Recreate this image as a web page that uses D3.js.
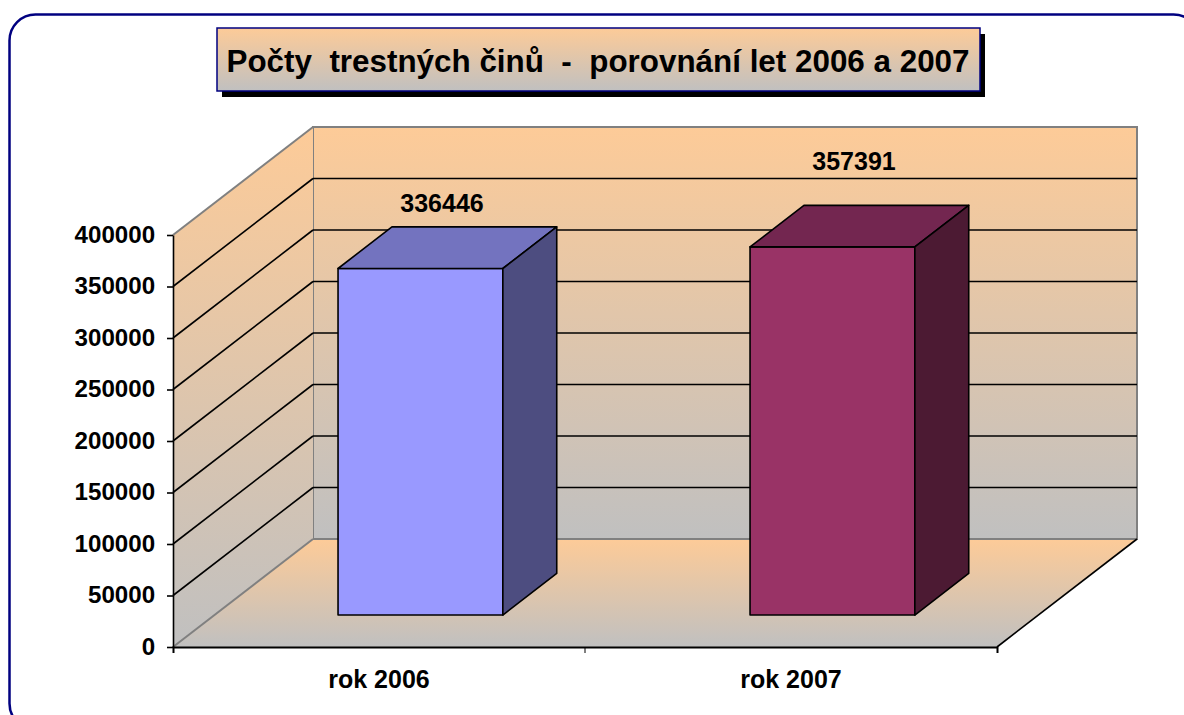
<!DOCTYPE html>
<html>
<head>
<meta charset="utf-8">
<script src="https://cdn.jsdelivr.net/npm/d3@7"></script>
<style>
  body { margin: 0; background: #fff; }
  text { font-family: "Liberation Sans", Arial, sans-serif; font-weight: bold; }
</style>
</head>
<body>
<svg width="1184" height="715"></svg>
<script>
// chart data
var title = 'Počty  trestných činů  -  porovnání let 2006 a 2007';
var categories = ['rok 2006', 'rok 2007'];
var values = [336446, 357391];
var yTicks = [0, 50000, 100000, 150000, 200000, 250000, 300000, 350000, 400000];
// bar face colours (front, top, side) per category
var frontColors = ['#9999FF', '#993366'];
var topColors = ['#7373BF', '#732650'];
var sideColors = ['#4D4D80', '#4C1A33'];
// manual nudges of the value labels above the bars, like the original
var labelLift = [15, 35];

var svg = d3.select('svg');

// front plane of the 3d box
var x = d3.scaleBand()
          .domain(categories)
          .range([173, 997])
          .paddingInner(0.6)
          .paddingOuter(0.3);
var y = d3.scaleLinear()
          .domain([0, 400000])
          .range([647, 235]);

// depth vector of the box and the slice the bars occupy
var DX = 140, DY = -108;
var barFront = 0.296, barDepth = 0.385;

var defs = svg.append('defs');
function grad(id, y1, y2) {
    var g = defs.append('linearGradient')
        .attr('id', id)
        .attr('gradientUnits', 'userSpaceOnUse')
        .attr('x1', 0).attr('x2', 0)
        .attr('y1', y1).attr('y2', y2);
    g.append('stop').attr('offset', '0%').attr('stop-color', '#FDCB98');
    g.append('stop').attr('offset', '100%').attr('stop-color', '#C0C0C0');
}
var x0 = x.range()[0], x1 = x.range()[1];
var yTop = y(400000), yBot = y(0);
grad('wallGrad', yTop + DY, yBot + DY);
grad('sideGrad', yTop + DY, yBot);
grad('floorGrad', yBot + DY, yBot);
grad('titleGrad', 28, 91);

// outer rounded frame
svg.append('rect')
   .attr('x', 9.5).attr('y', 14.5)
   .attr('width', 1190).attr('height', 715)
   .attr('rx', 26)
   .attr('fill', 'none')
   .attr('stroke', '#000080')
   .attr('stroke-width', 2.5);

// title box with shadow
svg.append('rect')
   .attr('x', 222).attr('y', 34)
   .attr('width', 763).attr('height', 63)
   .attr('fill', '#000');
svg.append('rect')
   .attr('x', 217).attr('y', 28)
   .attr('width', 763).attr('height', 63)
   .attr('fill', 'url(#titleGrad)')
   .attr('stroke', '#000080')
   .attr('stroke-width', 1.5);
svg.append('text')
   .attr('x', 598).attr('y', 72)
   .attr('text-anchor', 'middle')
   .attr('font-size', 32)
   .attr('textLength', 743)
   .attr('lengthAdjust', 'spacingAndGlyphs')
   .style('white-space', 'pre')
   .attr('xml:space', 'preserve')
   .text(title);

function pt(px, py) { return px + ',' + py; }

// back wall
svg.append('polygon')
   .attr('points', [pt(x0 + DX, yTop + DY), pt(x1 + DX, yTop + DY), pt(x1 + DX, yBot + DY), pt(x0 + DX, yBot + DY)].join(' '))
   .attr('fill', 'url(#wallGrad)')
   .attr('stroke', '#808080')
   .attr('stroke-width', 2);
// side wall
svg.append('polygon')
   .attr('points', [pt(x0, yTop), pt(x0 + DX, yTop + DY), pt(x0 + DX, yBot + DY), pt(x0, yBot)].join(' '))
   .attr('fill', 'url(#sideGrad)')
   .attr('stroke', 'none');
// floor
svg.append('polygon')
   .attr('points', [pt(x0, yBot), pt(x0 + DX, yBot + DY), pt(x1 + DX, yBot + DY), pt(x1, yBot)].join(' '))
   .attr('fill', 'url(#floorGrad)')
   .attr('stroke', 'none');

// gridlines on back and side wall
var inner = yTicks.filter(function(d) { return d > 0 && d < 400000; });
svg.selectAll('.gridBack')
   .data(inner)
   .enter()
   .append('line')
   .attr('x1', x0 + DX).attr('x2', x1 + DX)
   .attr('y1', function(d) { return y(d) + DY; })
   .attr('y2', function(d) { return y(d) + DY; })
   .attr('stroke', '#000').attr('stroke-width', 1.6);
svg.selectAll('.gridSide')
   .data(inner)
   .enter()
   .append('line')
   .attr('x1', x0).attr('x2', x0 + DX)
   .attr('y1', function(d) { return y(d); })
   .attr('y2', function(d) { return y(d) + DY; })
   .attr('stroke', '#000').attr('stroke-width', 1.6);

// grey edges of the walls, black right floor edge
svg.append('line')
   .attr('x1', x0).attr('y1', yTop).attr('x2', x0 + DX).attr('y2', yTop + DY)
   .attr('stroke', '#808080').attr('stroke-width', 2);
svg.append('line')
   .attr('x1', x0).attr('y1', yBot).attr('x2', x0 + DX).attr('y2', yBot + DY)
   .attr('stroke', '#808080').attr('stroke-width', 2);
svg.append('line')
   .attr('x1', x0 + DX).attr('y1', yBot + DY).attr('x2', x1 + DX).attr('y2', yBot + DY)
   .attr('stroke', '#808080').attr('stroke-width', 2);
svg.append('line')
   .attr('x1', x1).attr('y1', yBot).attr('x2', x1 + DX).attr('y2', yBot + DY)
   .attr('stroke', '#000').attr('stroke-width', 1.6);

// bars
var fx = DX * barFront, fy = DY * barFront;
var bx = DX * barDepth, by = DY * barDepth;
var bars = svg.selectAll('.bar')
   .data(values)
   .enter()
   .append('g')
   .attr('class', 'bar');
bars.append('polygon')
    .attr('points', function(d, i) {
        var l = x(categories[i]) + fx, r = l + x.bandwidth();
        var t = y(d) + fy, b = y(0) + fy;
        return [pt(l, t), pt(r, t), pt(r, b), pt(l, b)].join(' ');
    })
    .attr('fill', function(d, i) { return frontColors[i]; });
bars.append('polygon')
    .attr('points', function(d, i) {
        var l = x(categories[i]) + fx, r = l + x.bandwidth();
        var t = y(d) + fy;
        return [pt(l, t), pt(l + bx, t + by), pt(r + bx, t + by), pt(r, t)].join(' ');
    })
    .attr('fill', function(d, i) { return topColors[i]; });
bars.append('polygon')
    .attr('points', function(d, i) {
        var r = x(categories[i]) + fx + x.bandwidth();
        var t = y(d) + fy, b = y(0) + fy;
        return [pt(r, t), pt(r + bx, t + by), pt(r + bx, b + by), pt(r, b)].join(' ');
    })
    .attr('fill', function(d, i) { return sideColors[i]; });
bars.selectAll('polygon')
    .attr('stroke', '#000')
    .attr('stroke-width', 1.6)
    .attr('stroke-linejoin', 'round');

// value labels
bars.append('text')
    .attr('x', function(d, i) { return x(categories[i]) + fx + x.bandwidth() / 2 + bx * 0.4; })
    .attr('y', function(d, i) { return y(d) + fy + by - labelLift[i]; })
    .attr('text-anchor', 'middle')
    .attr('font-size', 25)
    .text(function(d) { return d; });

// y axis
var yAxis = svg.append('g')
   .attr('transform', 'translate(' + x0 + ',0)')
   .call(d3.axisLeft(y)
           .tickValues(yTicks)
           .tickFormat(d3.format('d'))
           .tickSize(6)
           .tickSizeOuter(0)
           .tickPadding(11));
yAxis.selectAll('text')
     .attr('font-size', 23)
     .attr('fill', '#000')
     .attr('transform', 'scale(1.05,1)');

// x axis: ticks at the category borders
var xAxis = svg.append('g')
   .attr('transform', 'translate(0,' + yBot + ')')
   .call(d3.axisBottom(x)
           .tickSizeInner(0)
           .tickSizeOuter(6)
           .tickPadding(23));
xAxis.selectAll('text')
     .attr('font-size', 25)
     .attr('fill', '#000');
xAxis.append('line')
     .attr('x1', x0 + x.step()).attr('x2', x0 + x.step())
     .attr('y1', 0).attr('y2', 6)
     .attr('stroke', '#000');
svg.selectAll('.domain, .tick line')
   .attr('stroke', '#000')
   .attr('stroke-width', 1.6);
xAxis.select('.domain').attr('stroke-width', 2);
</script>
</body>
</html>
